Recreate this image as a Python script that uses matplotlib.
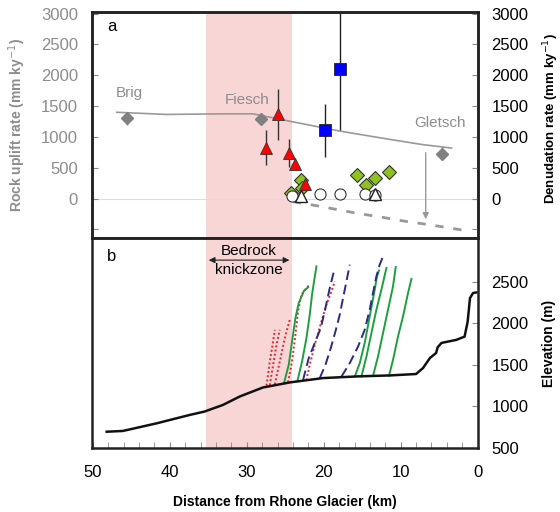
import matplotlib
matplotlib.use('Agg')
import matplotlib.pyplot as plt
from matplotlib.ticker import FixedLocator, FuncFormatter

plt.rcParams['font.family'] = ['Liberation Sans', 'DejaVu Sans']

# ---- panel a data (distance km, rate mm/ky) ----
town_d = [45.5, 28.1, 4.6]
town_v = [1300, 1290, 730]
town_names = ['Brig', 'Fiesch', 'Gletsch']

uplift_d = [46.9, 40.4, 33.1, 29.2, 24.4, 17.9, 11.4, 7.1, 3.4]
uplift_v = [1400, 1365, 1375, 1375, 1255, 1095, 960, 875, 820]

denud_d = [24.0, 22.7, 19.2, 15.8, 12.3, 9.3, 6.2, 1.5]
denud_v = [-50, -75, -155, -235, -305, -370, -425, -520]

sq_d = [17.9, 19.8]
sq_v = [2095, 1120]
sq_lo = [975, 450]
sq_hi = [1500, 420]

tri_d = [26.0, 27.5, 24.55, 23.7, 22.5]
tri_v = [1365, 825, 740, 555, 245]
tri_err = [410, 285, 220, 0, 0]

dia_d = [23.0, 22.8, 15.7, 13.4, 11.5, 14.5, 24.2]
dia_v = [295, 180, 380, 335, 430, 225, 90]

circ_d = [24.1, 20.5, 17.9, 14.7, 13.4]
circ_v = [40, 75, 75, 75, 65]

wtri_d = [23.0, 13.4]
wtri_v = [50, 70]

# ---- panel b data (distance km, elevation m) ----
prof_d = [48.2, 46.1, 41.7, 37.4, 35.5, 33.1, 30.9, 27.9, 24.4, 20.1, 15.7, 11.4,
          8.0, 7.1, 6.2, 5.4, 5.2, 4.7, 2.8, 1.7, 1.3, 1.0, 0.6, 0.2]
prof_e = [696, 705, 797, 898, 938, 1018, 1120, 1228, 1289, 1341, 1361, 1373,
          1390, 1462, 1583, 1643, 1711, 1764, 1800, 1840, 2021, 2303, 2364, 2371]

red_lines = [
    ([27.44, 27.01, 26.58, 26.36], [1250, 1540, 1781, 1922]),
    ([27.01, 26.58, 26.14, 25.71], [1255, 1500, 1741, 1922]),
    ([26.36, 25.71, 25.06, 24.42], [1265, 1540, 1822, 2042]),
    ([24.64, 24.12, 23.68, 23.34, 22.90, 22.25, 21.82], [1290, 1540, 1862, 2142, 2344, 2424, 2464]),
    ([22.25, 21.82, 21.17, 20.30, 19.65, 19.00, 18.57], [1315, 1500, 1741, 2022, 2223, 2383, 2504]),
]
green_lines = [
    ([25.15, 24.55, 24.12, 23.68, 23.25, 22.56, 22.04], [1285, 1500, 1781, 2063, 2244, 2392, 2432]),
    ([23.42, 22.82, 22.25, 21.82, 21.52, 21.26, 20.95], [1305, 1540, 1822, 2103, 2344, 2504, 2685]),
    ([15.97, 15.32, 14.68, 14.03, 13.38, 13.08, 12.82], [1359, 1521, 1762, 2082, 2404, 2564, 2636]),
    ([15.10, 14.45, 13.81, 13.16, 12.51, 11.86], [1362, 1600, 1882, 2163, 2404, 2665]),
    ([13.60, 12.95, 12.30, 11.65, 11.00, 10.65], [1366, 1600, 1882, 2163, 2444, 2677]),
    ([11.52, 11.00, 10.35, 9.70, 9.05, 8.61], [1370, 1560, 1841, 2082, 2364, 2533]),
]
blue_lines = [
    ([22.69, 21.95, 21.17, 20.39, 19.78, 19.22, 18.57], [1318, 1581, 1762, 1942, 2183, 2424, 2665]),
    ([20.52, 19.78, 19.09, 18.48, 17.92, 17.49, 17.05, 16.62], [1340, 1500, 1701, 1902, 2103, 2304, 2504, 2705]),
    ([17.70, 16.62, 15.54, 14.68, 14.03, 13.60, 13.16, 12.73, 12.30], [1359, 1521, 1721, 1922, 2163, 2364, 2564, 2705, 2805]),
]

knick = (35.3, 24.1)

gray = '#8c8c8c'
pink = '#f8d6d6'

fig = plt.figure(figsize=(5.6, 5.12), dpi=100)
ax1 = fig.add_axes([0.164, 0.535, 0.689, 0.442])
ax2 = fig.add_axes([0.164, 0.125, 0.689, 0.410])

for ax in (ax1, ax2):
    ax.axvspan(knick[0], knick[1], color=pink, lw=0, zorder=0)
    ax.set_xlim(50.13, 0)
    for s in ax.spines.values():
        s.set_linewidth(1.8)
        s.set_color('#222222')

# ---- panel a ----
ax1.set_ylim(-640, 3030)
ax1.axhline(0, color='#dddddd', lw=0.8, zorder=1)
ax1.plot(uplift_d, uplift_v, color='#999999', lw=1.2, zorder=2)
ax1.plot(denud_d, denud_v, color='#999999', lw=2, dashes=(3, 3.5), zorder=2)
ax1.errorbar(town_d, town_v, yerr=100, fmt='D', ms=6, color='#808080',
             mec='#808080', elinewidth=1, capsize=0, zorder=3)
for d, v, name, dx, dy in zip(town_d, town_v, town_names, [-0.3, 1.8, 0.3], [410, 310, 500]):
    ax1.text(d + dx, v + dy, name, color=gray, fontsize=11, ha='center', va='center')
ax1.annotate('', xy=(6.75, -380), xytext=(6.75, 790),
             arrowprops=dict(arrowstyle='-|>', color='#999999', lw=1, mutation_scale=9))

ax1.plot(dia_d, dia_v, 'D', ms=7, color='#8dc21f', mec='#333333', mew=0.8, zorder=4)
ax1.errorbar(tri_d, tri_v, yerr=tri_err, fmt='^', ms=8, color='red', mec='#333333',
             mew=0.6, ecolor='#333333', elinewidth=1, capsize=0, zorder=5)
ax1.errorbar(circ_d, circ_v, yerr=[[50] * 5, [0] * 5], fmt='o', ms=8, mfc='white',
             mec='#333333', mew=0.8, ecolor='#333333', elinewidth=1, capsize=0, zorder=6)
ax1.plot(wtri_d, wtri_v, '^', ms=8, mfc='white', mec='#222222', mew=1.0, zorder=7)
ax1.errorbar(sq_d, sq_v, yerr=[sq_lo, sq_hi], fmt='s', ms=8, color='#0000ff',
             mec='#222222', mew=0.6, ecolor='#222222', elinewidth=1, capsize=0, zorder=5)

yt = [-500, 0, 500, 1000, 1500, 2000, 2500, 3000]
fmt = FuncFormatter(lambda v, p: '' if v < 0 else '%d' % v)
ax1.yaxis.set_major_locator(FixedLocator(yt))
ax1.yaxis.set_major_formatter(fmt)
ax1.tick_params(axis='y', direction='in', length=4, pad=10, labelsize=12,
                labelcolor=gray, color='#888888')
ax1.tick_params(axis='x', bottom=False, labelbottom=False)
ax1.set_ylabel('Rock uplift rate (mm ky$^{-1}$)', color=gray, fontsize=10,
               fontweight='bold')
ax1.yaxis.set_label_coords(-0.165, 0.5)

ax1r = ax1.twinx()
ax1r.set_ylim(ax1.get_ylim())
ax1r.yaxis.set_major_locator(FixedLocator(yt))
ax1r.yaxis.set_major_formatter(fmt)
ax1r.tick_params(axis='y', direction='in', length=4, pad=10, labelsize=12,
                 color='#888888')
ax1r.set_ylabel('Denudation rate (mm ky$^{-1}$)', fontsize=9.5, fontweight='bold')
ax1r.yaxis.set_label_coords(1.166, 0.53)
for s in ax1r.spines.values():
    s.set_linewidth(1.8)
    s.set_color('#222222')
ax1.text(0.051, 0.935, 'a', transform=ax1.transAxes, fontsize=12, ha='center', va='center')

# ---- panel b ----
ax2.set_ylim(500, 3025)
for xs, ys in red_lines:
    ax2.plot(xs, ys, color='#e8262a', lw=1.4, ls=(0, (1, 1.2)), zorder=3)
for xs, ys in green_lines:
    ax2.plot(xs, ys, color='#1f9e3f', lw=1.4, zorder=3)
for xs, ys in blue_lines:
    ax2.plot(xs, ys, color='#2b2a85', lw=1.4, ls=(0, (5, 2.5)), zorder=3)
ax2.plot(prof_d, prof_e, color='#111111', lw=1.8, zorder=4)

ax2.annotate('', xy=(knick[0], 2760), xytext=(knick[1], 2760),
             arrowprops=dict(arrowstyle='<|-|>', color='#222222', lw=0.8, mutation_scale=9))
ax2.text(sum(knick) / 2, 2865, 'Bedrock', fontsize=11, ha='center', va='center')
ax2.text(sum(knick) / 2, 2645, 'knickzone', fontsize=11, ha='center', va='center')
ax2.text(0.051, 0.911, 'b', transform=ax2.transAxes, fontsize=12, ha='center', va='center')

ax2.yaxis.tick_right()
ax2.yaxis.set_label_position('right')
ax2.set_yticks([500, 1000, 1500, 2000, 2500])
ax2.tick_params(axis='y', direction='in', length=4, pad=10, labelsize=12, color='#888888')
ax2.set_ylabel('Elevation (m)', fontsize=10, fontweight='bold')
ax2.yaxis.set_label_coords(1.166, 0.5)

ax2.set_xticks([50, 40, 30, 20, 10, 0])
ax2.set_xticks(range(0, 51, 2), minor=True)
ax2.tick_params(axis='x', which='both', direction='in', length=4, color='#888888')
ax2.tick_params(axis='x', which='major', pad=12, labelsize=12)
ax2.set_xlabel('Distance from Rhone Glacier (km)', fontsize=10, fontweight='bold')
ax2.xaxis.set_label_coords(0.5, -0.225)

fig.savefig('out.png', dpi=100)
